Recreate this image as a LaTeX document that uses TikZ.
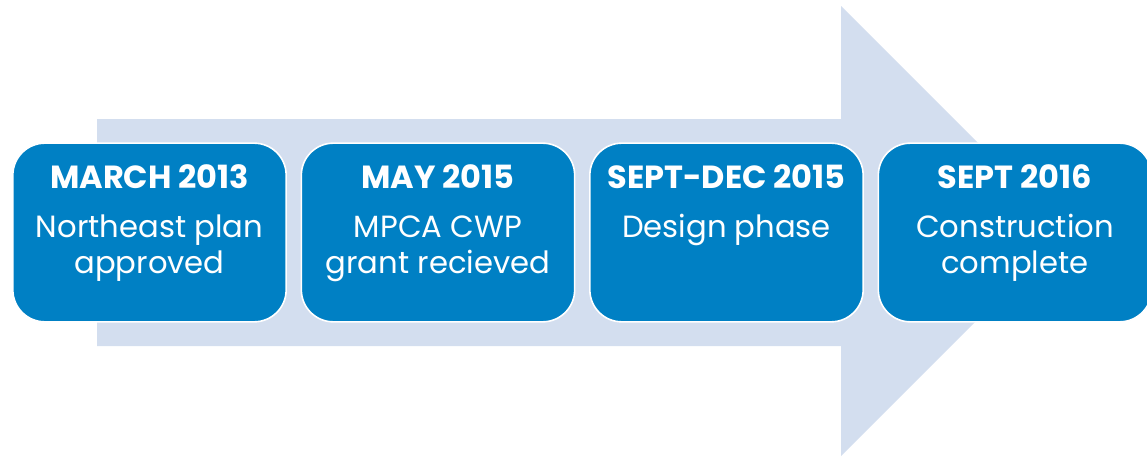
\documentclass[tikz,border=0pt]{standalone}
\usepackage{fontspec}
\setmainfont{Poppins}
\definecolor{arrowfill}{HTML}{D3DEEF}
\definecolor{boxblue}{HTML}{0080C4}

\tikzset{
  stepbox/.style={draw=white, line width=1.2pt, fill=boxblue, rounded corners=24pt,
    minimum width=205pt, minimum height=134pt, inner sep=0pt},
  datetext/.style={text=white, font=\bfseries\fontsize{24}{28}\selectfont, anchor=base},
  steptext/.style={text=white, font=\fontsize{23}{27}\selectfont, align=center, anchor=base},
}

\begin{document}
\begin{tikzpicture}[line cap=round,line join=round,x=0.75pt,y=-0.75pt]
\useasboundingbox (0,0) rectangle (1147,457);
% background arrow
\fill [arrowfill] (97,119) -- (841,119) -- (841,6) -- (1066,231) -- (841,456) -- (841,346) -- (97,346) -- cycle;
% milestone boxes
\node [stepbox] (m1) at (149.5,232.5) {};
\node [stepbox] (m2) at (438,232.5) {};
\node [stepbox] (m3) at (726.5,232.5) {};
\node [stepbox] (m4) at (1015,232.5) {};
% dates
\node [datetext] (d1) at (149.5,188) {MARCH 2013};
\node [datetext] (d2) at (438,188) {MAY 2015};
\node [datetext] (d3) at (726.5,188) {SEPT-DEC 2015};
\node [datetext] (d4) at (1015,188) {SEPT 2016};
% descriptions (base = last line)
\node [steptext] (s1) at (149.5,273) {Northeast plan\\approved};
\node [steptext] (s2) at (438,273) {MPCA CWP\\grant recieved};
\node [steptext] (s3) at (726.5,237) {Design phase};
\node [steptext] (s4) at (1015,273) {Construction\\complete};
\end{tikzpicture}
\end{document}
